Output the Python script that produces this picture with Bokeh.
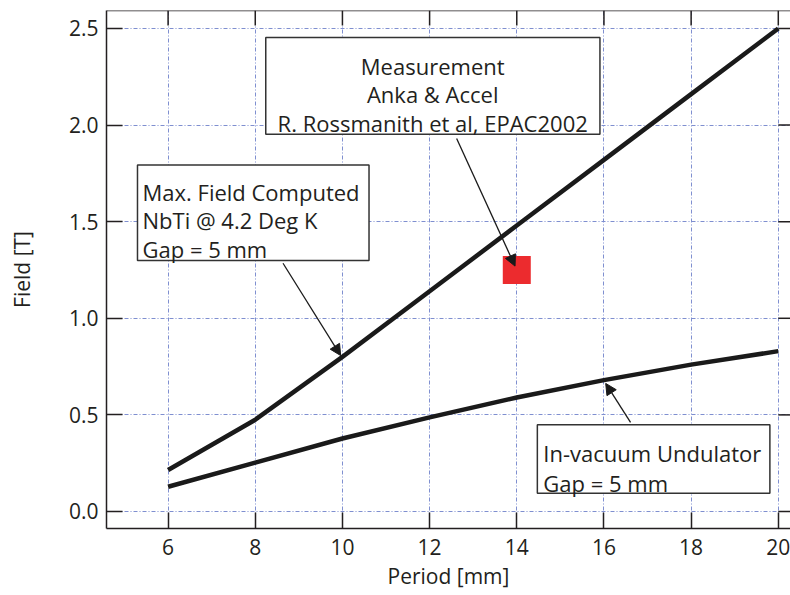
from bokeh.plotting import figure
from bokeh.models import (Range1d, FixedTicker, BoxAnnotation, Label, Span,
                          Arrow, NormalHead, PrintfTickFormatter)
from bokeh.embed import file_html
from bokeh.resources import INLINE

# ---- data ----
period = [6, 8, 10, 12, 14, 16, 18, 20]
field_nbti = [0.215, 0.475, 0.80, 1.14, 1.48, 1.82, 2.16, 2.50]
field_invac = [0.128, 0.253, 0.378, 0.487, 0.59, 0.68, 0.76, 0.83]
meas_period = [14]
meas_field = [1.25]

x_ticks = [6, 8, 10, 12, 14, 16, 18, 20]
y_ticks = [0.0, 0.5, 1.0, 1.5, 2.0, 2.5]

box1_lines = ["Max. Field Computed", "NbTi @ 4.2 Deg K", "Gap = 5 mm"]
box2_lines = ["Measurement", "Anka & Accel", "R. Rossmanith et al, EPAC2002"]
box3_lines = ["In-vacuum Undulator", "Gap = 5 mm"]

FONT = "Open Sans"
TXT = "#231f20"
AX = "#231f20"

X0, X1 = 4.587, 20.28
Y0, Y1 = -0.088, 2.593

p = figure(width=790, height=595, output_backend="svg", toolbar_location=None,
           x_range=Range1d(X0, X1), y_range=Range1d(Y0, Y1),
           min_border_left=106, min_border_right=0, min_border_top=10,
           min_border_bottom=67, x_axis_label="Period [mm]", y_axis_label="Field [T]")
p.outline_line_color = None
p.background_fill_color = "white"
p.border_fill_color = "white"

for ax in (p.xaxis[0], p.yaxis[0]):
    ax.axis_line_color = AX
    ax.axis_line_width = 1.5
    ax.major_tick_line_color = AX
    ax.major_tick_line_width = 1.5
    ax.major_tick_in = 16
    ax.major_tick_out = 0
    ax.minor_tick_line_color = None
    ax.major_label_text_font = FONT
    ax.major_label_text_font_size = "21px"
    ax.major_label_text_color = TXT
    ax.axis_label_text_font = FONT
    ax.axis_label_text_font_style = "normal"
    ax.axis_label_text_color = TXT
    ax.axis_label_text_font_size = "21px"

xa = p.xaxis[0]
ya = p.yaxis[0]
xa.ticker = FixedTicker(ticks=x_ticks)
ya.ticker = FixedTicker(ticks=y_ticks)
ya.formatter = PrintfTickFormatter(format="%.1f")
xa.major_label_standoff = 10
ya.major_label_standoff = 8
xa.axis_label_standoff = 4
ya.axis_label_standoff = 30

for g in (p.xgrid[0], p.ygrid[0]):
    g.grid_line_color = "#7f8fd0"
    g.grid_line_dash = "4 2 1 2"
    g.grid_line_width = 1
p.xgrid[0].ticker = FixedTicker(ticks=x_ticks)
p.ygrid[0].ticker = FixedTicker(ticks=y_ticks)

# top frame line and inward ticks on top / right
p.add_layout(Span(location=Y1, dimension="width", line_color=AX, line_width=1.5))
top_len = 15 / 193.0
p.segment(x0=x_ticks, y0=[Y1] * len(x_ticks), x1=x_ticks,
          y1=[Y1 - top_len] * len(x_ticks), line_color=AX, line_width=1.5)
p.segment(x0=[x_ticks[-1]] * len(y_ticks), y0=y_ticks, x1=[X1] * len(y_ticks),
          y1=y_ticks, line_color=AX, line_width=1.5)

p.line(period, field_nbti, line_color="#1a1a1a", line_width=4.5, line_join="round")
p.line(period, field_invac, line_color="#1a1a1a", line_width=4.5, line_join="round")
p.scatter(meas_period, meas_field, marker="square", size=28, fill_color="#ec2b2e",
          line_color=None)

# annotation boxes (data coordinates)
boxes = [
    (5.298, 10.61, 1.299, 1.793),
    (8.241, 15.908, 1.952, 2.453),
    (14.472, 19.807, 0.095, 0.449),
]
for (l, r, b, t) in boxes:
    p.add_layout(BoxAnnotation(left=l, right=r, bottom=b, top=t, fill_color="white",
                               fill_alpha=1, line_color="#333333", line_alpha=1,
                               line_width=1.5, level="annotation"))

def add_lines(lines, x, ys, align):
    for s, y in zip(lines, ys):
        p.add_layout(Label(x=x, y=y, text=s, text_font=FONT, text_font_size="22px",
                           text_color=TXT, text_align=align,
                           text_baseline="alphabetic"))

add_lines(box1_lines, 5.413, [1.653, 1.507, 1.361], "left")
add_lines(box2_lines, 12.071, [2.306, 2.16, 2.011], "center")
add_lines(box3_lines, 14.61, [0.304, 0.150], "left")

arrows = [
    ((8.637, 1.285), (9.96, 0.807)),
    ((12.62, 1.93), (13.96, 1.27)),
    ((16.61, 0.461), (16.04, 0.663)),
]
for (s, e) in arrows:
    p.add_layout(Arrow(x_start=s[0], y_start=s[1], x_end=e[0], y_end=e[1],
                       line_color="#1a1a1a", line_width=1.3,
                       end=NormalHead(size=11, fill_color="#1a1a1a",
                                      line_color="#1a1a1a", line_width=1)))

open("out.html", "w").write(file_html(p, INLINE))
